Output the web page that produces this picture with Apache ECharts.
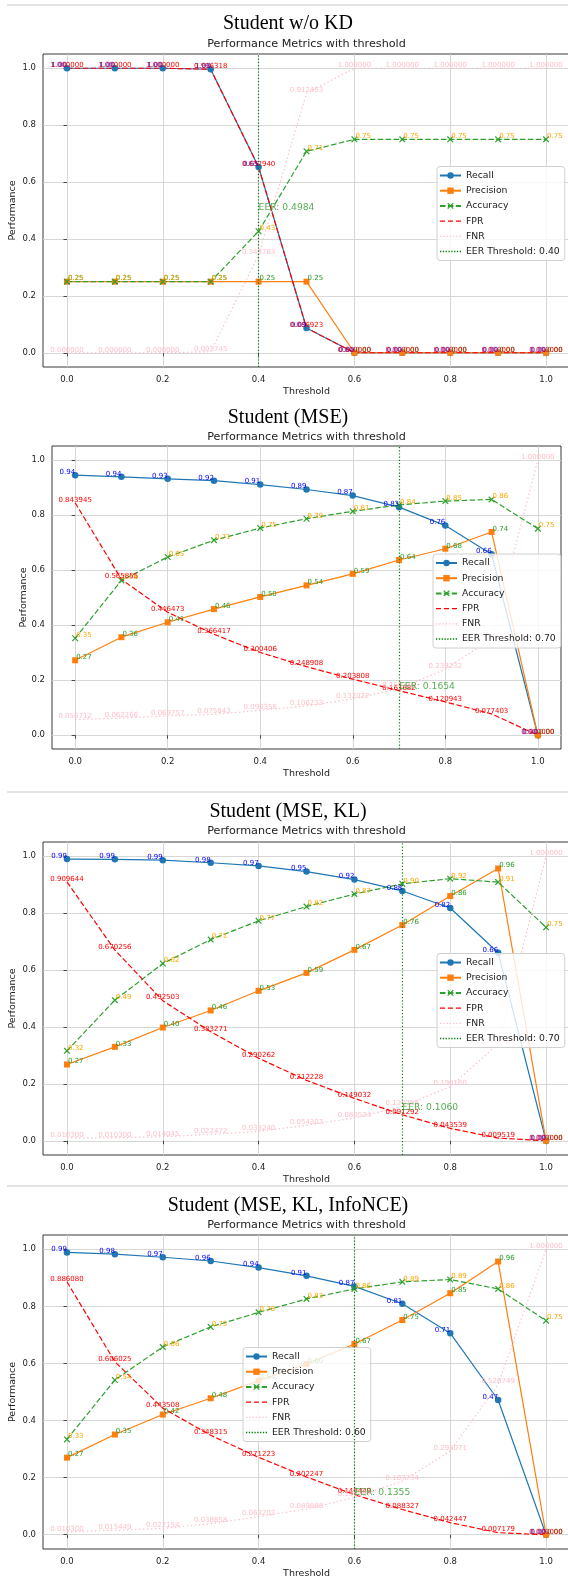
<!DOCTYPE html>
<html><head><meta charset="utf-8">
<script src="https://cdn.jsdelivr.net/npm/echarts@6/dist/echarts.min.js"></script>
<style>html,body{margin:0;padding:0;background:#fff}#c{width:568px;height:1576px}</style>
</head><body><div id="c"></div>
<script>
// ---------- data ----------
const thresholds = [0, 0.1, 0.2, 0.3, 0.4, 0.5, 0.6, 0.7, 0.8, 0.9, 1.0];
const panelTitles = ['Student w/o KD', 'Student (MSE)', 'Student (MSE, KL)', 'Student (MSE, KL, InfoNCE)'];
const subTitle = 'Performance Metrics with threshold';
const xTickValues = [0, 0.2, 0.4, 0.6, 0.8, 1.0];
const yTickValues = [0, 0.2, 0.4, 0.6, 0.8, 1.0];

const recall1    = [1, 1, 1, 0.996318, 0.652940, 0.086923, 0, 0, 0, 0, 0];
const precision1 = [0.25, 0.25, 0.25, 0.25, 0.25, 0.25, 0, 0, 0, 0, 0];
const accuracy1  = [0.25, 0.25, 0.25, 0.25, 0.427, 0.708, 0.75, 0.75, 0.75, 0.75, 0.75];
const fpr1       = [1, 1, 1, 0.996318, 0.652940, 0.086923, 0, 0, 0, 0, 0];
const fnr1       = [0, 0, 0, 0.003745, 0.343783, 0.912453, 1, 1, 1, 1, 1];

const recall2    = [0.944, 0.938, 0.931, 0.924, 0.910, 0.892, 0.870, 0.828, 0.761, 0.657, 0];
const precision2 = [0.272, 0.356, 0.410, 0.458, 0.502, 0.544, 0.586, 0.636, 0.677, 0.738, 0];
const accuracy2  = [0.352, 0.562, 0.647, 0.708, 0.752, 0.786, 0.813, 0.836, 0.850, 0.856, 0.75];
const fpr2       = [0.843945, 0.565855, 0.446473, 0.366417, 0.300406, 0.248908, 0.203808, 0.161682, 0.120943, 0.077403, 0];
const fnr2       = [0.056712, 0.062266, 0.069757, 0.075843, 0.090356, 0.106233, 0.132022, 0.169118, 0.239232, 0.351190, 1];

const recall3    = [0.990, 0.989, 0.986, 0.977, 0.966, 0.946, 0.918, 0.878, 0.818, 0.661, 0];
const precision3 = [0.268, 0.330, 0.398, 0.458, 0.527, 0.590, 0.671, 0.758, 0.860, 0.957, 0];
const accuracy3  = [0.316, 0.494, 0.623, 0.707, 0.773, 0.823, 0.867, 0.903, 0.921, 0.909, 0.75];
const fpr3       = [0.909644, 0.670256, 0.492503, 0.383271, 0.290262, 0.212228, 0.149032, 0.091292, 0.043539, 0.009519, 0];
const fnr3       = [0.010300, 0.010300, 0.014045, 0.022472, 0.033240, 0.054307, 0.080524, 0.120708, 0.190160, 0.340824, 1];

const recall4    = [0.989, 0.983, 0.972, 0.959, 0.936, 0.907, 0.870, 0.809, 0.706, 0.472, 0];
const precision4 = [0.270, 0.351, 0.421, 0.478, 0.540, 0.598, 0.668, 0.752, 0.846, 0.957, 0];
const accuracy4  = [0.334, 0.542, 0.658, 0.728, 0.779, 0.826, 0.861, 0.886, 0.894, 0.861, 0.75];
const fpr4       = [0.886080, 0.606025, 0.443508, 0.348315, 0.271223, 0.202247, 0.140449, 0.088327, 0.042447, 0.007179, 0];
const fnr4       = [0.010300, 0.015449, 0.022154, 0.038858, 0.063202, 0.089888, 0.130597, 0.187734, 0.293071, 0.526749, 1];

const eerThresholds = [0.40, 0.70, 0.70, 0.60];
const eerValues     = [0.4984, 0.1654, 0.1060, 0.1355];

const panels = [
  {recall: recall1, precision: precision1, accuracy: accuracy1, fpr: fpr1, fnr: fnr1},
  {recall: recall2, precision: precision2, accuracy: accuracy2, fpr: fpr2, fnr: fnr2},
  {recall: recall3, precision: precision3, accuracy: accuracy3, fpr: fpr3, fnr: fnr3},
  {recall: recall4, precision: precision4, accuracy: accuracy4, fpr: fpr4, fnr: fnr4}
];

// ---------- layout ----------
const layouts = [
  {grid: {left: 43, top: 54, width: 527, height: 313}, titleY: 24, subY: 44, legend: {left: 437, top: 166.5}, yGap: 25},
  {grid: {left: 52, top: 446, width: 509, height: 303}, titleY: 418, subY: 437, legend: {left: 433, top: 554}, yGap: 23},
  {grid: {left: 43, top: 842, width: 527, height: 313}, titleY: 812, subY: 831, legend: {left: 437, top: 953.5}, yGap: 25},
  {grid: {left: 43, top: 1235, width: 527, height: 314}, titleY: 1206, subY: 1225, legend: {left: 243, top: 1347.5}, yGap: 25}
];

const C = {recall: '#1f77b4', precision: '#ff7f0e', accuracy: '#2ca02c', fpr: '#ff0000', fnr: '#ffc0cb', eer: '#008000'};
const FONT = 'DejaVu Sans';
const X_SYMBOL = 'path://M0,1.3L1.3,0L5,3.7L8.7,0L10,1.3L6.3,5L10,8.7L8.7,10L5,6.3L1.3,10L0,8.7L3.7,5Z';
const DASH_ICON = 'path://M0,0h4.8v1.3h-4.8zM7.6,0h4.8v1.3h-4.8zM15.2,0h4.8v1.3h-4.8z';
function dotIcon(step) {
  let p = 'path://';
  for (let x = 0; x <= 20 - 1.2 + 0.001; x += step) p += 'M' + x.toFixed(2) + ',0h1.2v1.2h-1.2z';
  return p;
}
const pts = arr => thresholds.map((t, k) => [t, arr[k]]);

function lbl(color, align, digits) {
  return {
    show: true, fontSize: 7, fontFamily: FONT, color: color,
    position: ['50%', '50%'], align: align, verticalAlign: 'middle', offset: [align === 'left' ? 1 : 0, -3],
    formatter: p => p.value[1].toFixed(digits)
  };
}

const option = {
  animation: false,
  backgroundColor: '#fff',
  textStyle: {fontFamily: FONT},
  title: [], grid: [], xAxis: [], yAxis: [], legend: [], series: [],
  graphic: [5, 792, 1186].map(y => ({
    type: 'line', silent: true, shape: {x1: 7, y1: y, x2: 568, y2: y},
    style: {stroke: '#c8c8c8', lineWidth: 1}
  }))
};

panels.forEach((d, i) => {
  const L = layouts[i];
  const cx = L.grid.left + L.grid.width / 2;
  option.title.push({
    text: panelTitles[i], left: 288, top: L.titleY, textAlign: 'center', textVerticalAlign: 'middle', padding: 0,
    textStyle: {fontFamily: 'Liberation Serif', fontSize: 20, fontWeight: 'normal', color: '#000'}
  });
  option.title.push({
    text: subTitle, left: cx, top: L.subY, textAlign: 'center', textVerticalAlign: 'middle', padding: 0,
    textStyle: {fontFamily: FONT, fontSize: 11.2, fontWeight: 'normal', color: '#222'}
  });
  option.grid.push(Object.assign({
    show: true, borderColor: '#222', borderWidth: 0.9, backgroundColor: 'transparent',
    containLabel: false, outerBoundsMode: 'none'
  }, L.grid));
  option.xAxis.push({
    gridIndex: i, type: 'value', min: -0.05, max: 1.05,
    name: 'Threshold', nameLocation: 'middle', nameGap: 20,
    nameTextStyle: {fontSize: 9.5, color: '#222', fontFamily: FONT},
    axisLine: {show: false},
    axisTick: {show: true, length: 3.5, lineStyle: {color: '#222', width: 0.8}, customValues: xTickValues},
    axisLabel: {customValues: xTickValues, formatter: v => v.toFixed(1), fontSize: 8.5, color: '#222', margin: 8, fontFamily: FONT},
    splitLine: {show: true, lineStyle: {color: '#d3d3d3', width: 0.9}}
  });
  option.yAxis.push({
    gridIndex: i, type: 'value', min: -0.05, max: 1.05,
    name: 'Performance', nameLocation: 'middle', nameGap: L.yGap, nameMoveOverlap: false,
    nameTextStyle: {fontSize: 9.5, color: '#222', fontFamily: FONT},
    axisLine: {show: false},
    axisTick: {show: true, length: 3.5, lineStyle: {color: '#222', width: 0.8}, customValues: yTickValues},
    axisLabel: {customValues: yTickValues, formatter: v => v.toFixed(1), fontSize: 8.5, color: '#222', margin: 7, fontFamily: FONT},
    splitLine: {show: true, lineStyle: {color: '#d3d3d3', width: 0.9}}
  });
  const eerName = 'EER Threshold: ' + eerThresholds[i].toFixed(2);
  option.legend.push({
    left: L.legend.left, top: L.legend.top, orient: 'vertical',
    itemWidth: 21, itemHeight: 8, itemGap: 6.2, padding: [4.5, 5, 4.5, 2],
    backgroundColor: 'rgba(255,255,255,0.8)', borderColor: '#d0d0d0', borderWidth: 1, borderRadius: 3,
    textStyle: {fontSize: 9.3, color: '#222', fontFamily: FONT},
    selectedMode: false,
    data: ['Recall', 'Precision', 'Accuracy',
      {name: 'FPR', icon: DASH_ICON},
      {name: 'FNR', icon: dotIcon(2.95)},
      {name: eerName, icon: dotIcon(2.6)}]
  });
  const base = {type: 'line', xAxisIndex: i, yAxisIndex: i, showSymbol: true, showAllSymbol: true, silent: true};
  option.series.push(Object.assign({}, base, {
    name: 'Recall', data: pts(d.recall), symbol: 'circle', symbolSize: 6.5,
    itemStyle: {color: C.recall, borderWidth: 0}, lineStyle: {color: C.recall, width: 1.2},
    label: lbl('#0000ff', 'right', 2)
  }));
  option.series.push(Object.assign({}, base, {
    name: 'Precision', data: pts(d.precision), symbol: 'rect', symbolSize: 6,
    itemStyle: {color: C.precision, borderWidth: 0}, lineStyle: {color: C.precision, width: 1.2},
    label: lbl('#2a9a2a', 'left', 2)
  }));
  option.series.push(Object.assign({}, base, {
    name: 'Accuracy', data: pts(d.accuracy), symbol: X_SYMBOL, symbolSize: 6.5,
    itemStyle: {color: C.accuracy, borderWidth: 0}, lineStyle: {color: C.accuracy, width: 1.2, type: [5.5, 2.4]},
    label: lbl('#ffa500', 'left', 2)
  }));
  option.series.push(Object.assign({}, base, {
    name: 'FPR', data: pts(d.fpr), symbol: 'circle', symbolSize: 0,
    itemStyle: {color: C.fpr, borderWidth: 0}, lineStyle: {color: C.fpr, width: 1.2, type: [5.5, 2.4]},
    label: lbl('#ff0000', 'center', 6)
  }));
  option.series.push(Object.assign({}, base, {
    name: 'FNR', data: pts(d.fnr), symbol: 'circle', symbolSize: 0,
    itemStyle: {color: C.fnr, borderWidth: 0}, lineStyle: {color: C.fnr, width: 1.2, type: [1.5, 2.5]},
    label: lbl('#ffc0cb', 'center', 6)
  }));
  option.series.push(Object.assign({}, base, {
    name: eerName, data: [], symbol: 'circle', symbolSize: 0,
    itemStyle: {color: C.eer, borderWidth: 0}, lineStyle: {color: C.eer, width: 1.2, type: [1.2, 2]},
    markLine: {
      silent: true, symbol: 'none', animation: false, label: {show: false},
      lineStyle: {color: C.eer, width: 1.2, type: [1.2, 2]},
      data: [{xAxis: eerThresholds[i]}]
    }
  }));
  option.series.push({
    type: 'scatter', xAxisIndex: i, yAxisIndex: i, silent: true, z: 3,
    data: [[eerThresholds[i], eerValues[i]]], symbolSize: 0, itemStyle: {color: 'transparent'},
    label: {
      show: true, fontSize: 9.2, fontFamily: FONT, color: '#2a9a2a',
      position: ['50%', '50%'], align: 'left', verticalAlign: 'middle', offset: [0, -3],
      formatter: () => 'EER: ' + eerValues[i].toFixed(4)
    }
  });
});

const chart = echarts.init(document.getElementById('c'));
chart.setOption(option);
</script>
</body></html>
